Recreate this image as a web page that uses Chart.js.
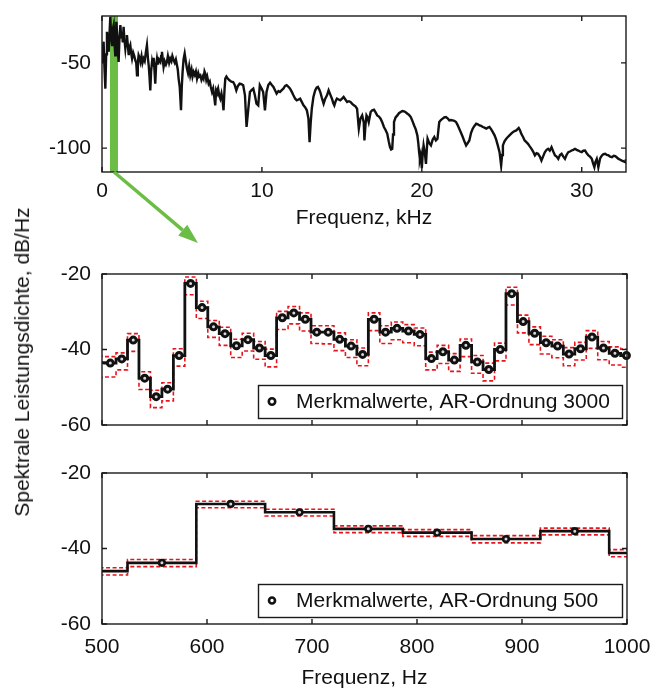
<!DOCTYPE html>
<html>
<head>
<meta charset="utf-8">
<script src="https://cdn.jsdelivr.net/npm/chart.js@4.4.1/dist/chart.umd.min.js"></script>
<style>
  body { margin: 0; background: #fff; width: 652px; height: 689px; position: relative; overflow: hidden;
         font-family: 'Liberation Sans', Arial, Helvetica, sans-serif; }
  canvas { position: absolute; left: 0; }
  #c1 { top: 0; }
  #c2 { top: 250px; }
  #c3 { top: 450px; }
  #ytitle { position: absolute; left: 22px; top: 362px; transform: translate(-50%, -50%) rotate(-90deg);
            white-space: nowrap; font-size: 21px; color: #111; }
</style>
</head>
<body>
<canvas id="c1" width="652" height="250"></canvas>
<canvas id="c2" width="652" height="200"></canvas>
<canvas id="c3" width="652" height="239"></canvas>
<div id="ytitle">Spektrale Leistungsdichte, dB/Hz</div>
<script>
// top panel: full spectrum (kHz / dB/Hz)
const specFreq = [
  0.00, 0.05, 0.10, 0.15, 0.21, 0.26, 0.31, 0.37, 0.42, 0.47, 0.52, 0.57, 0.63, 0.68, 0.73, 0.78, 0.83, 0.87, 0.90, 0.96,
  1.04, 1.09, 1.15, 1.20, 1.25, 1.30, 1.35, 1.40, 1.46, 1.51, 1.56, 1.62, 1.67, 1.72, 1.77, 1.82, 1.88, 1.95, 2.02, 2.08,
  2.14, 2.19, 2.24, 2.29, 2.35, 2.40, 2.47, 2.53, 2.60, 2.67, 2.74, 2.81, 2.87, 2.92, 2.97, 3.02, 3.07, 3.13, 3.18, 3.23,
  3.28, 3.33, 3.38, 3.44, 3.50, 3.56, 3.65, 3.70, 3.75, 3.80, 3.85, 3.92, 4.00, 4.06, 4.12, 4.20, 4.27, 4.34, 4.40, 4.48,
  4.55, 4.62, 4.69, 4.74, 4.79, 4.86, 4.94, 4.99, 5.04, 5.10, 5.17, 5.24, 5.31, 5.38, 5.45, 5.52, 5.60, 5.66, 5.73, 5.80,
  5.87, 5.94, 6.02, 6.08, 6.15, 6.22, 6.30, 6.35, 6.41, 6.46, 6.52, 6.58, 6.67, 6.74, 6.80, 6.88, 6.95, 7.02, 7.08, 7.14,
  7.19, 7.26, 7.33, 7.40, 7.47, 7.54, 7.60, 7.66, 7.71, 7.78, 7.85, 7.97, 8.09, 8.20, 8.30, 8.40, 8.50, 8.61, 8.72, 8.83,
  8.94, 9.04, 9.14, 9.25, 9.35, 9.46, 9.56, 9.66, 9.77, 9.87, 9.98, 10.08, 10.19, 10.29, 10.40, 10.51, 10.62, 10.72, 10.82, 10.92,
  11.03, 11.13, 11.24, 11.34, 11.45, 11.55, 11.66, 11.76, 11.87, 11.97, 12.08, 12.18, 12.29, 12.39, 12.50, 12.60, 12.70, 12.81, 12.91, 12.98,
  13.05, 13.12, 13.22, 13.33, 13.42, 13.50, 13.58, 13.65, 13.75, 13.86, 13.96, 14.07, 14.17, 14.27, 14.38, 14.46, 14.53, 14.61, 14.69, 14.80,
  14.90, 15.01, 15.11, 15.22, 15.33, 15.44, 15.54, 15.65, 15.75, 15.85, 15.95, 16.06, 16.16, 16.27, 16.37, 16.41, 16.48, 16.54, 16.61, 16.68,
  16.80, 16.90, 17.01, 17.11, 17.21, 17.32, 17.42, 17.53, 17.63, 17.74, 17.84, 17.93, 18.01, 18.08, 18.15, 18.20, 18.26, 18.36, 18.47, 18.57,
  18.68, 18.78, 18.89, 18.99, 19.10, 19.20, 19.31, 19.41, 19.52, 19.62, 19.72, 19.78, 19.83, 19.88, 19.93, 20.00, 20.05, 20.11, 20.19, 20.26,
  20.31, 20.36, 20.46, 20.57, 20.68, 20.78, 20.88, 20.98, 21.04, 21.09, 21.19, 21.30, 21.40, 21.51, 21.61, 21.72, 21.82, 21.93, 22.03, 22.14,
  22.24, 22.34, 22.45, 22.56, 22.66, 22.77, 22.87, 22.97, 23.08, 23.18, 23.29, 23.40, 23.50, 23.61, 23.71, 23.82, 23.92, 24.03, 24.13, 24.23,
  24.34, 24.44, 24.55, 24.65, 24.75, 24.86, 24.96, 25.02, 25.07, 25.17, 25.28, 25.38, 25.48, 25.59, 25.69, 25.80, 25.91, 26.06, 26.14, 26.22,
  26.33, 26.43, 26.54, 26.64, 26.75, 26.86, 26.96, 27.07, 27.17, 27.27, 27.38, 27.48, 27.58, 27.69, 27.80, 27.90, 28.00, 28.11, 28.22, 28.33,
  28.43, 28.53, 28.64, 28.74, 28.85, 28.95, 29.05, 29.16, 29.26, 29.37, 29.47, 29.58, 29.68, 29.79, 29.89, 30.00, 30.10, 30.21, 30.31, 30.42,
  30.52, 30.63, 30.71, 30.79, 30.86, 30.94, 31.00, 31.04, 31.15, 31.26, 31.36, 31.47, 31.57, 31.68, 31.78, 31.89, 32.00, 32.10, 32.20, 32.30,
  32.41, 32.51, 32.62, 32.72, 32.77
];
const specDb = [
  -49.4, -42.0, -37.6, -52.0, -65.1, -45.0, -31.8, -38.0, -43.5, -33.0, -23.0, -34.0, -39.6, -30.0, -27.8, -38.0, -45.5, -34.0, -25.9, -36.0,
  -49.4, -36.0, -27.8, -35.0, -31.8, -38.0, -28.8, -36.0, -41.6, -37.0, -33.7, -40.0, -45.5, -41.0, -39.6, -44.0, -47.5, -44.0, -46.0, -48.4,
  -50.0, -57.3, -50.0, -45.5, -47.0, -49.4, -46.0, -50.0, -47.5, -49.0, -44.0, -39.6, -47.0, -51.4, -58.0, -66.1, -55.0, -49.4, -52.0, -47.0,
  -54.0, -62.2, -52.0, -47.5, -51.0, -48.0, -49.4, -46.0, -43.5, -48.0, -52.4, -49.0, -51.0, -49.4, -46.0, -50.0, -47.5, -49.0, -46.0, -48.4,
  -50.0, -48.0, -51.4, -54.0, -59.2, -64.0, -77.8, -64.0, -55.3, -48.0, -44.5, -49.0, -53.3, -56.0, -52.0, -57.3, -54.0, -58.0, -55.3, -57.0,
  -55.0, -59.2, -56.0, -58.0, -57.3, -60.0, -58.0, -59.2, -55.0, -56.3, -60.0, -58.0, -62.2, -61.0, -64.0, -67.1, -65.0, -70.0, -74.9, -66.0,
  -67.1, -65.0, -69.0, -71.0, -68.0, -72.0, -77.8, -66.0, -59.2, -58.0, -59.0, -60.2, -61.0, -61.2, -63.0, -66.1, -63.5, -62.2, -62.5, -63.1,
  -69.0, -87.6, -77.8, -67.1, -66.0, -65.1, -69.0, -73.9, -74.9, -63.1, -65.0, -67.1, -77.8, -67.1, -63.0, -61.6, -63.0, -64.1, -66.0, -68.0,
  -66.5, -67.1, -66.0, -65.1, -63.5, -63.1, -64.0, -65.1, -67.0, -69.0, -71.0, -72.0, -71.5, -71.0, -73.0, -74.9, -76.0, -77.8, -82.7, -96.5,
  -85.0, -76.9, -70.0, -66.1, -64.5, -64.1, -65.5, -67.1, -70.5, -73.9, -71.0, -69.0, -66.1, -68.5, -71.0, -73.5, -74.9, -72.5, -71.0, -71.5,
  -72.0, -71.0, -70.0, -71.5, -72.9, -72.5, -72.9, -74.0, -74.9, -75.5, -76.9, -88.6, -82.7, -80.8, -85.0, -95.5, -86.0, -80.8, -82.0, -84.7,
  -78.8, -77.8, -77.5, -79.0, -80.8, -81.5, -82.7, -85.0, -87.6, -89.5, -91.6, -96.0, -99.4, -100.8, -100.4, -92.0, -84.7, -82.0, -80.8, -79.5,
  -78.8, -78.2, -78.4, -79.0, -79.8, -80.5, -81.8, -84.0, -86.7, -89.0, -92.5, -97.0, -102.4, -106.3, -104.0, -111.8, -104.0, -98.4, -103.0, -109.2,
  -101.0, -94.5, -97.0, -98.4, -95.0, -93.5, -95.5, -94.5, -89.0, -84.7, -83.5, -82.7, -82.0, -81.8, -82.5, -83.7, -83.5, -83.7, -84.0, -84.7,
  -86.5, -88.6, -91.0, -93.5, -96.0, -98.4, -97.0, -95.5, -91.0, -88.6, -87.0, -85.7, -86.0, -86.7, -87.0, -87.6, -88.0, -88.6, -88.0, -87.6,
  -89.0, -90.6, -92.5, -95.0, -98.4, -102.4, -110.2, -104.0, -98.4, -96.0, -94.5, -93.5, -92.5, -91.5, -90.6, -90.0, -89.6, -88.2, -89.5, -91.6,
  -93.5, -95.5, -96.5, -97.5, -99.0, -100.4, -102.0, -104.3, -103.0, -103.3, -105.0, -107.3, -105.0, -102.4, -101.0, -100.4, -101.5, -99.4, -102.0, -104.3,
  -105.0, -106.3, -104.0, -103.3, -105.0, -106.3, -104.0, -102.4, -102.0, -101.4, -101.0, -100.4, -101.0, -101.4, -102.0, -102.4, -101.5, -101.4, -103.0, -104.3,
  -105.0, -106.3, -109.0, -111.2, -108.0, -106.3, -109.0, -111.2, -106.0, -104.3, -103.5, -103.3, -104.0, -104.3, -105.0, -105.3, -104.5, -104.7, -105.5, -106.3,
  -106.8, -107.3, -107.8, -108.2, -106.5
];
const highlightKHz = [0.5, 1.0];

// middle panel: AR order 3000, bin centres in Hz
const binHz3000 = [
  496.98, 507.90, 518.83, 529.75, 540.67, 551.60, 562.52, 573.44, 584.37, 595.29,
  606.21, 617.13, 628.06, 638.98, 649.90, 660.83, 671.75, 682.67, 693.60, 704.52,
  715.44, 726.36, 737.29, 748.21, 759.13, 770.06, 780.98, 791.90, 802.83, 813.75,
  824.67, 835.59, 846.52, 857.44, 868.36, 879.29, 890.21, 901.13, 912.06, 922.98,
  933.90, 944.82, 955.75, 966.67, 977.59, 988.52, 999.44, 1010.36
];
const psd3000 = [
  -43.5, -43.6, -42.5, -37.5, -47.6, -52.5, -50.5, -41.6, -22.5, -28.9,
  -34.0, -35.8, -39.0, -37.4, -39.6, -41.6, -31.6, -30.3, -32.0, -35.4,
  -35.4, -37.3, -39.1, -41.3, -32.0, -35.4, -34.4, -35.1, -36.0, -42.4,
  -40.6, -42.8, -38.9, -43.3, -45.3, -40.0, -25.2, -32.6, -35.7, -38.2,
  -39.1, -41.2, -39.8, -36.7, -39.6, -41.0, -41.6, -41.8
];
const upper3000 = [
  -41.8, -41.9, -40.9, -35.8, -45.9, -50.8, -48.8, -39.8, -20.8, -27.2,
  -32.3, -34.1, -37.3, -35.7, -37.9, -39.9, -29.9, -28.6, -30.3, -33.7,
  -33.7, -35.6, -37.4, -39.6, -30.3, -33.7, -32.7, -33.4, -34.3, -40.7,
  -38.9, -41.1, -37.2, -41.6, -43.6, -38.3, -23.5, -30.9, -34.0, -36.5,
  -37.4, -39.5, -38.1, -35.0, -37.9, -39.3, -39.9, -40.1
];
const lower3000 = [
  -47.4, -47.3, -45.4, -40.5, -50.6, -55.4, -53.6, -44.4, -25.5, -31.8,
  -36.8, -38.9, -42.1, -40.4, -42.6, -44.6, -34.7, -33.2, -35.1, -38.4,
  -38.5, -40.3, -42.1, -44.3, -35.0, -38.4, -37.4, -38.2, -39.0, -45.4,
  -43.7, -45.8, -41.9, -46.3, -48.3, -43.0, -28.2, -35.6, -38.7, -41.2,
  -42.2, -44.3, -42.8, -39.7, -42.7, -44.1, -44.7, -44.9
];

// bottom panel: AR order 500
const binHz500 = [491.52, 557.06, 622.59, 688.13, 753.66, 819.20, 884.74, 950.27, 1015.81];
const psd500 = [-46.0, -43.8, -28.2, -30.4, -34.8, -35.8, -37.5, -35.4, -41.2];
const upper500 = [-45.1, -42.9, -27.5, -29.6, -34.0, -35.0, -36.6, -34.6, -40.3];
const lower500 = [-47.0, -44.8, -29.2, -31.4, -35.8, -36.8, -38.5, -36.4, -42.2];

const xTicksKHz = [0, 10, 20, 30];
const yTicksTop = [-100, -50];
const xTicksHz = [500, 600, 700, 800, 900, 1000];
const yTicksPsd = [-60, -40, -20];

const INK = '#111';
const RED = '#e8141c';
const GREEN = '#6cbd45';
const FONT = "'Liberation Sans', Arial, Helvetica, sans-serif";

Chart.defaults.font.family = FONT;
Chart.defaults.font.size = 21;
Chart.defaults.color = INK;

function fixedTicks(list) {
  return s => { s.ticks = list.map(v => ({ value: v })); };
}

function axisX(min, max, ticks, height, title, showLabels, labelPad, titlePad) {
  return {
    type: 'linear', min: min, max: max,
    afterBuildTicks: fixedTicks(ticks),
    // fixed height, and no extra side room for the end labels
    afterFit: s => { s.height = height; s.paddingLeft = 0; s.paddingRight = 0; },
    grid: { display: false, drawTicks: false },
    border: { display: false },
    ticks: { display: showLabels, padding: labelPad, autoSkip: false, maxRotation: 0, callback: v => String(v) },
    title: { display: !!title, text: title || '', padding: { top: 0, bottom: titlePad || 0 } }
  };
}

function axisY(min, max, ticks) {
  return {
    min: min, max: max,
    afterBuildTicks: fixedTicks(ticks),
    afterFit: s => { s.width = 102; s.paddingTop = 0; s.paddingBottom = 0; },
    grid: { display: false, drawTicks: false },
    border: { display: false },
    ticks: { padding: 11, autoSkip: false, callback: v => String(v) }
  };
}

// box + inward ticks on all four sides
const frameTicks = {
  id: 'frameTicks',
  afterDatasetsDraw(chart) {
    const { ctx, chartArea: a, scales: { x, y } } = chart;
    ctx.save();
    ctx.strokeStyle = '#1a1a1a';
    ctx.lineWidth = 1.4;
    ctx.strokeRect(a.left, a.top, a.right - a.left, a.bottom - a.top);
    ctx.beginPath();
    x.ticks.forEach(t => {
      const px = x.getPixelForValue(t.value);
      ctx.moveTo(px, a.bottom); ctx.lineTo(px, a.bottom - 5);
      ctx.moveTo(px, a.top); ctx.lineTo(px, a.top + 5);
    });
    y.ticks.forEach(t => {
      const py = y.getPixelForValue(t.value);
      ctx.moveTo(a.left, py); ctx.lineTo(a.left + 5, py);
      ctx.moveTo(a.right, py); ctx.lineTo(a.right - 5, py);
    });
    ctx.stroke();
    ctx.restore();
  }
};

// green band on the spectrum + arrow down to the zoomed panels
const zoomMark = {
  id: 'zoomMark',
  beforeDatasetsDraw(chart) {
    const { ctx, chartArea: a, scales: { x } } = chart;
    const x0 = x.getPixelForValue(highlightKHz[0]);
    const x1 = x.getPixelForValue(highlightKHz[1]);
    ctx.save();
    ctx.fillStyle = GREEN;
    ctx.fillRect(x0, a.top, x1 - x0, a.bottom - a.top);
    ctx.restore();
  },
  afterDraw(chart) {
    const { ctx, chartArea: a, scales: { x } } = chart;
    const sx = x.getPixelForValue((highlightKHz[0] + highlightKHz[1]) / 2);
    const sy = a.bottom;
    const ex = sx + 84, ey = sy + 71;
    const ang = Math.atan2(ey - sy, ex - sx);
    const hl = 20, hw = 7;
    const bx = ex - hl * Math.cos(ang), by = ey - hl * Math.sin(ang);
    ctx.save();
    ctx.strokeStyle = GREEN;
    ctx.fillStyle = GREEN;
    ctx.lineWidth = 3.5;
    ctx.beginPath();
    ctx.moveTo(sx, sy);
    ctx.lineTo(bx, by);
    ctx.stroke();
    ctx.beginPath();
    ctx.moveTo(ex, ey);
    ctx.lineTo(bx + hw * Math.sin(ang), by - hw * Math.cos(ang));
    ctx.lineTo(bx - hw * Math.sin(ang), by + hw * Math.cos(ang));
    ctx.closePath();
    ctx.fill();
    ctx.restore();
  }
};

// legend box in the lower right corner of the plot
function boxLegend(markerR) {
  return {
    id: 'boxLegend',
    afterDraw(chart) {
      const { ctx, chartArea: a } = chart;
      const label = chart.data.datasets[0].label;
      const w = 364, h = 33;
      const x0 = Math.round(a.right - 5 - w), y0 = Math.round(a.bottom - 7 - h);
      ctx.save();
      ctx.fillStyle = '#fff';
      ctx.fillRect(x0, y0, w, h);
      ctx.strokeStyle = '#1a1a1a';
      ctx.lineWidth = 1.4;
      ctx.strokeRect(x0 + 0.5, y0 + 0.5, w, h);
      ctx.beginPath();
      ctx.lineWidth = 2.6;
      ctx.strokeStyle = INK;
      ctx.arc(x0 + 14, y0 + h / 2, markerR, 0, 2 * Math.PI);
      ctx.stroke();
      ctx.fillStyle = INK;
      ctx.font = '21px ' + FONT;
      ctx.textBaseline = 'middle';
      ctx.fillText(label, x0 + 38, y0 + h / 2 + 1);
      ctx.restore();
    }
  };
}

function stepSet(xs, ys, color, width, dash) {
  return {
    data: xs.map((f, i) => ({ x: f, y: ys[i] })),
    stepped: 'middle', borderColor: color, borderWidth: width, borderDash: dash || [],
    pointRadius: 0, fill: false, clip: 0
  };
}

function markerSet(label, xs, ys, r, bw) {
  const lo = xTicksHz[0], hi = xTicksHz[xTicksHz.length - 1];
  return {
    label: label,
    data: xs.map((f, i) => ({ x: f, y: ys[i] })).filter(p => p.x >= lo && p.x <= hi),
    showLine: false, pointRadius: r, pointHoverRadius: r, pointBorderWidth: bw,
    pointBorderColor: INK, pointBackgroundColor: '#d8d8d8', clip: 10
  };
}

const baseOpts = {
  responsive: false, animation: false, events: [],
  plugins: { legend: { display: false }, tooltip: { enabled: false } }
};

// top: full spectrum
new Chart(document.getElementById('c1'), {
  type: 'line',
  data: {
    datasets: [{
      label: 'Spektrum',
      data: specFreq.map((f, i) => ({ x: f, y: specDb[i] })),
      borderColor: INK, borderWidth: 2.4, pointRadius: 0, tension: 0, clip: 0
    }]
  },
  options: Object.assign({}, baseOpts, {
    layout: { padding: { top: 16, right: 26, left: 0, bottom: 0 } },
    scales: {
      x: axisX(0, 32.768, xTicksKHz, 78, 'Frequenz, kHz', true, 7, 19),
      y: axisY(-114, -22.5, yTicksTop)
    }
  }),
  plugins: [zoomMark, frameTicks]
});

// middle: AR order 3000
new Chart(document.getElementById('c2'), {
  type: 'line',
  data: {
    datasets: [
      markerSet('Merkmalwerte, AR-Ordnung 3000', binHz3000, psd3000, 3.0, 3.0),
      stepSet(binHz3000, psd3000, INK, 2.8),
      stepSet(binHz3000, upper3000, RED, 1.6, [4, 2.5]),
      stepSet(binHz3000, lower3000, RED, 1.6, [4, 2.5])
    ]
  },
  options: Object.assign({}, baseOpts, {
    layout: { padding: { top: 24, right: 25, left: 0, bottom: 0 } },
    scales: {
      x: axisX(500, 1000, xTicksHz, 25, '', false, 6),
      y: axisY(-60, -20, yTicksPsd)
    }
  }),
  plugins: [frameTicks, boxLegend(3.2)]
});

// bottom: AR order 500
new Chart(document.getElementById('c3'), {
  type: 'line',
  data: {
    datasets: [
      markerSet('Merkmalwerte, AR-Ordnung 500', binHz500, psd500, 2.8, 2.6),
      stepSet(binHz500, psd500, INK, 2.6),
      stepSet(binHz500, upper500, RED, 1.6, [4, 2.5]),
      stepSet(binHz500, lower500, RED, 1.6, [4, 2.5])
    ]
  },
  options: Object.assign({}, baseOpts, {
    layout: { padding: { top: 23, right: 25, left: 0, bottom: 0 } },
    scales: {
      x: axisX(500, 1000, xTicksHz, 65, 'Frequenz, Hz', true, 11, -2),
      y: axisY(-60, -20, yTicksPsd)
    }
  }),
  plugins: [frameTicks, boxLegend(3.0)]
});
</script>
</body>
</html>
